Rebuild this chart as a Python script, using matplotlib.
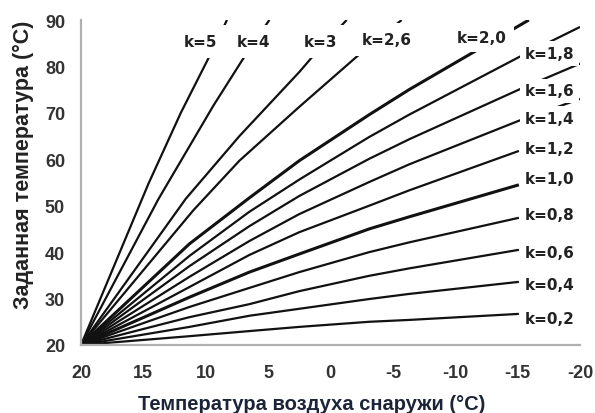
import matplotlib
matplotlib.use("Agg")
import matplotlib.pyplot as plt

plt.rcParams['font.family'] = ['Liberation Sans', 'DejaVu Sans']

# Curve data: outdoor temperature (x, °C) -> set temperature (y, °C)
k_labels = ["k=5", "k=4", "k=3", "k=2,6", "k=2,0", "k=1,8", "k=1,6", "k=1,4",
            "k=1,2", "k=1,0", "k=0,8", "k=0,6", "k=0,4", "k=0,2"]

x_k5 = [20, 14.6, 12.0, 9.4, 8.3]
y_k5 = [20, 54.7, 70.0, 83.8, 90]
x_k4 = [20, 13.8, 9.4, 6.45, 4.9]
y_k4 = [20, 51.4, 71.5, 84.0, 90]
x_k3 = [20, 11.6, 7.3, 2.5, 0.9, -1.3]
y_k3 = [20, 51.5, 65.0, 78.8, 83.8, 90]
x_k26 = [20, 11.0, 7.3, 2.5, -2.1, -5.7]
y_k26 = [20, 49.0, 59.7, 71.3, 82.1, 90]
x_k20 = [20, 11.3, 6.5, 2.5, -3.1, -6.3, -11.8, -15.9]
y_k20 = [20, 41.8, 51.7, 59.7, 69.6, 75.0, 83.6, 90]
x_k18 = [20, 11.3, 6.5, 2.4, -3.1, -6.3, -15.1, -20]
y_k18 = [20, 39.2, 48.7, 55.8, 64.8, 69.6, 82.0, 88.5]
x_k16 = [20, 11.3, 6.5, 2.5, -3.1, -6.3, -15.1, -20]
y_k16 = [20, 37.0, 45.6, 52.1, 60.1, 64.3, 75.0, 80.6]
x_k14 = [20, 11.3, 6.5, 2.5, -3.1, -6.3, -15.1, -20]
y_k14 = [20, 34.7, 42.4, 48.2, 55.1, 58.9, 68.3, 73.0]
x_k12 = [20, 11.3, 6.5, 2.5, -3.1, -6.3, -15.1]
y_k12 = [20, 32.5, 39.4, 44.3, 50.0, 53.3, 61.8]
x_k10 = [20, 11.3, 6.5, 2.5, -3.1, -6.3, -15.1]
y_k10 = [20, 30.3, 35.7, 39.6, 45.0, 47.6, 54.5]
x_k08 = [20, 11.3, 6.5, 2.5, -3.1, -6.3, -15.1]
y_k08 = [20, 28.2, 32.3, 35.7, 40.0, 42.1, 47.4]
x_k06 = [20, 11.3, 6.5, 2.5, -3.1, -6.3, -15.1]
y_k06 = [20, 26.0, 28.8, 31.6, 34.9, 36.5, 40.5]
x_k04 = [20, 11.3, 6.5, 2.5, -3.1, -6.3, -15.1]
y_k04 = [20, 23.9, 26.3, 27.8, 29.9, 31.0, 33.6]
x_k02 = [20, 11.3, 6.5, 2.5, -3.1, -6.3, -15.1]
y_k02 = [20, 21.9, 23.0, 23.9, 25.0, 25.4, 26.7]

series_x = [x_k5, x_k4, x_k3, x_k26, x_k20, x_k18, x_k16, x_k14,
            x_k12, x_k10, x_k08, x_k06, x_k04, x_k02]
series_y = [y_k5, y_k4, y_k3, y_k26, y_k20, y_k18, y_k16, y_k14,
            y_k12, y_k10, y_k08, y_k06, y_k04, y_k02]

x_ticks = [20, 15, 10, 5, 0, -5, -10, -15, -20]
y_ticks = [20, 30, 40, 50, 60, 70, 80, 90]

# label placement (data coords, baseline), alignment and box padding
label_pos = [(10.46, 84.4, "center", 0.6), (6.21, 84.4, "center", 0.6),
             (0.84, 84.4, "center", 0.6), (-4.53, 84.8, "center", 0.6),
             (-12.14, 85.3, "center", 0.45),
             (-15.59, 81.8, "left", 0.3), (-15.59, 73.8, "left", 0.3),
             (-15.59, 67.8, "left", 0.3), (-15.59, 61.4, "left", 0.3),
             (-15.59, 54.9, "left", 0.3), (-15.59, 47.1, "left", 0.3),
             (-15.59, 39.0, "left", 0.3), (-15.59, 32.1, "left", 0.3),
             (-15.59, 24.7, "left", 0.3)]
bold_lines = {"k=2,0", "k=1,0"}

fig = plt.figure(figsize=(5.95, 4.14), dpi=100)
ax = fig.add_axes([81 / 595, 68 / 414, 499 / 595, 325 / 414])

for lab, xs, ys in zip(k_labels, series_x, series_y):
    lw = 2.2 if lab in bold_lines else 1.6
    ax.plot(xs, ys, color="#111111", lw=lw, solid_capstyle="butt", zorder=2)

for lab, (lx, ly, ha, pad) in zip(k_labels, label_pos):
    ax.text(lx, ly, lab, ha=ha, va="baseline", fontsize=11, fontweight="bold",
            family="DejaVu Sans", color="#222222", zorder=5, clip_on=False,
            bbox=dict(boxstyle="square,pad=%.2f" % pad, fc="white", ec="none"))

ax.set_xlim(20, -20)
ax.set_ylim(20, 90)
ax.set_xticks(x_ticks)
ax.set_yticks(y_ticks)
ax.set_xticklabels([str(v) for v in x_ticks], fontsize=13, fontweight="bold", color="#333333")
ax.set_yticklabels([str(v) for v in y_ticks], fontsize=13, fontweight="bold", color="#333333")
ax.tick_params(axis="both", length=0)
ax.tick_params(axis="x", pad=14)
ax.tick_params(axis="y", pad=11.5)

for s in ["top", "right"]:
    ax.spines[s].set_visible(False)
for s in ["left", "bottom"]:
    ax.spines[s].set_color("#b0b0b0")
    ax.spines[s].set_linewidth(1.6)

fig.text(23 / 595, (414 - 165) / 414, "Заданная температура (°C)", rotation=90,
         ha="center", va="center", fontsize=15.5, fontweight="bold", color="#222222")
fig.text(312 / 595, 4 / 414, "Температура воздуха снаружи (°C)",
         ha="center", va="baseline", fontsize=14.5, fontweight="bold", color="#1c2438")

fig.savefig("out.png", dpi=100)
